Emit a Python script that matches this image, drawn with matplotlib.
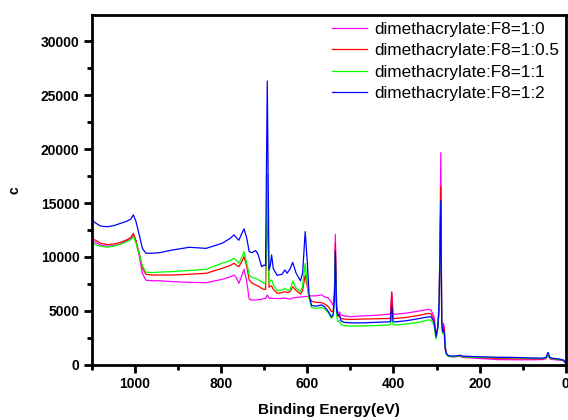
import matplotlib
matplotlib.use('Agg')
import matplotlib.pyplot as plt
from matplotlib.ticker import MultipleLocator

plt.rcParams['font.family'] = ['Liberation Sans', 'DejaVu Sans']

# binding energy (eV), shared by the four spectra
energy = [1100, 1090, 1080, 1065, 1050, 1035, 1020, 1010, 1004, 998,
          990, 983, 975, 960, 943, 913, 874, 835, 798, 780,
          770, 765, 759, 752, 747, 741, 735, 729, 720, 714,
          706, 701, 697, 693, 689, 686, 683, 679, 670, 659,
          652, 647, 640, 634, 626, 616, 611, 605, 600, 596,
          590, 580, 567, 560, 551, 544, 540, 537, 535, 532,
          529, 526, 522, 515, 500, 470, 440, 410, 407, 404,
          401, 398, 370, 340, 320, 313, 306, 301, 297, 294,
          290, 288, 286, 284, 282, 280, 277, 272, 260, 244,
          240, 200, 160, 120, 80, 55, 46, 41, 37, 30,
          15, 5, 0]

c_1_0 = [11500, 11300, 11100, 11000, 11050, 11200, 11500, 11700, 12050, 11500,
         10000, 8500, 7850, 7800, 7800, 7720, 7650, 7620, 7930, 8150,
         8330, 8100, 7560, 8300, 8860, 7800, 6100, 6020, 6020, 6050,
         6100, 6150, 6150, 6480, 6200, 6170, 6170, 6170, 6150, 6170,
         6200, 6150, 6100, 6200, 6250, 6300, 6300, 6350, 6330, 6400,
         6400, 6400, 6500, 6300, 6200, 5800, 5500, 7000, 12100, 5500,
         4800, 4900, 4650, 4550, 4470, 4550, 4600, 4700, 4750, 6790,
         4750, 4700, 4800, 5000, 5150, 5100, 4500, 2800, 3500, 5000,
         19660, 4200, 3300, 3860, 3500, 1800, 1000, 800, 750, 800,
         700, 600, 500, 480, 480, 500, 560, 900, 560, 500,
         450, 400, 150]

c_1_05 = [11730, 11500, 11270, 11150, 11200, 11350, 11570, 11800, 12190, 11500,
          10300, 9000, 8400, 8330, 8330, 8330, 8400, 8490, 8950, 9200,
          9420, 9250, 9100, 9600, 10030, 9200, 7870, 7600, 7410, 7300,
          7100, 7000, 7000, 15000, 7200, 7300, 7310, 7000, 6640, 6700,
          6790, 6700, 6800, 7250, 6900, 6570, 6900, 8330, 7200, 6300,
          5900, 5800, 5770, 5650, 5400, 4940, 5000, 6500, 11270, 5200,
          4500, 4600, 4300, 4250, 4220, 4250, 4280, 4300, 4350, 6700,
          4350, 4300, 4400, 4600, 4780, 4750, 4200, 2700, 3500, 5300,
          16510, 4100, 3200, 3600, 3300, 1700, 1050, 820, 780, 850,
          750, 680, 600, 580, 560, 560, 620, 1000, 620, 560,
          500, 420, 150]

c_1_1 = [11300, 11100, 11000, 10900, 11000, 11150, 11400, 11600, 11900, 11300,
         10200, 9200, 8600, 8560, 8600, 8650, 8750, 8860, 9420, 9650,
         9880, 9700, 9420, 10000, 10500, 9500, 8330, 8100, 8030, 7900,
         7720, 7560, 7560, 17700, 7560, 7800, 7870, 7400, 6880, 6950,
         7100, 6950, 6950, 7780, 7100, 6790, 7300, 9420, 7500, 6100,
         5300, 5250, 5340, 5200, 4810, 4320, 4500, 6000, 10300, 4600,
         4000, 4100, 3750, 3650, 3600, 3620, 3650, 3700, 3750, 4500,
         3750, 3700, 3800, 3950, 4170, 4150, 3700, 2400, 3400, 5600,
         15100, 3900, 2900, 3000, 2800, 1500, 950, 780, 760, 850,
         760, 700, 680, 660, 620, 600, 650, 900, 640, 580,
         520, 440, 150]

c_1_2 = [13400, 13100, 12870, 12800, 12900, 13100, 13300, 13500, 13900, 13300,
         12000, 10800, 10350, 10350, 10400, 10650, 10900, 10800, 11270, 11700,
         12050, 11800, 11550, 12200, 12600, 11800, 10500, 10400, 10600, 10200,
         9100, 9250, 9200, 26300, 8800, 9200, 10200, 8900, 8300, 8400,
         8800, 8500, 8900, 9500, 8500, 7800, 8500, 12350, 9500, 6500,
         5500, 5450, 5560, 5400, 4940, 4450, 4700, 6000, 10500, 5000,
         4600, 4700, 4100, 3950, 3900, 3900, 3950, 4000, 4050, 5500,
         4050, 3980, 4100, 4300, 4450, 4470, 4000, 2600, 3500, 5740,
         15210, 4000, 3080, 3240, 3000, 1500, 1050, 850, 820, 900,
         820, 760, 720, 700, 650, 630, 700, 1170, 700, 620,
         550, 450, 150]

labels = ['dimethacrylate:F8=1:0', 'dimethacrylate:F8=1:0.5',
          'dimethacrylate:F8=1:1', 'dimethacrylate:F8=1:2']
colors = ['#FF00FF', '#FF0000', '#00FF00', '#0000FF']

fig = plt.figure(figsize=(5.68, 4.2), dpi=100)
ax = fig.add_axes([0.162, 0.131, 0.834, 0.833])

for ys, lab, col in zip([c_1_0, c_1_05, c_1_1, c_1_2], labels, colors):
    ax.plot(energy, ys, color=col, lw=0.9, label=lab)

ax.set_xlim(1100, 0)
ax.set_ylim(0, 32400)
ax.xaxis.set_major_locator(MultipleLocator(200))
ax.xaxis.set_minor_locator(MultipleLocator(100))
ax.yaxis.set_major_locator(MultipleLocator(5000))
ax.yaxis.set_minor_locator(MultipleLocator(2500))

for s in ax.spines.values():
    s.set_linewidth(2)
ax.tick_params(which='major', direction='out', length=6, width=2, pad=3,
               labelsize=10)
ax.tick_params(which='minor', direction='out', length=3.5, width=2)
for t in ax.get_xticklabels() + ax.get_yticklabels():
    t.set_fontweight('bold')

ax.set_xlabel('Binding Energy(eV)', fontsize=11, fontweight='bold', labelpad=8)
ax.set_ylabel('c', fontsize=10, fontweight='bold', labelpad=14)

ax.legend(loc='upper right', frameon=False, fontsize=12.3, handlelength=2.05,
          handletextpad=0.4, labelspacing=0.38, borderaxespad=0.15,
          borderpad=0.25)

fig.savefig('out.png', dpi=100)
